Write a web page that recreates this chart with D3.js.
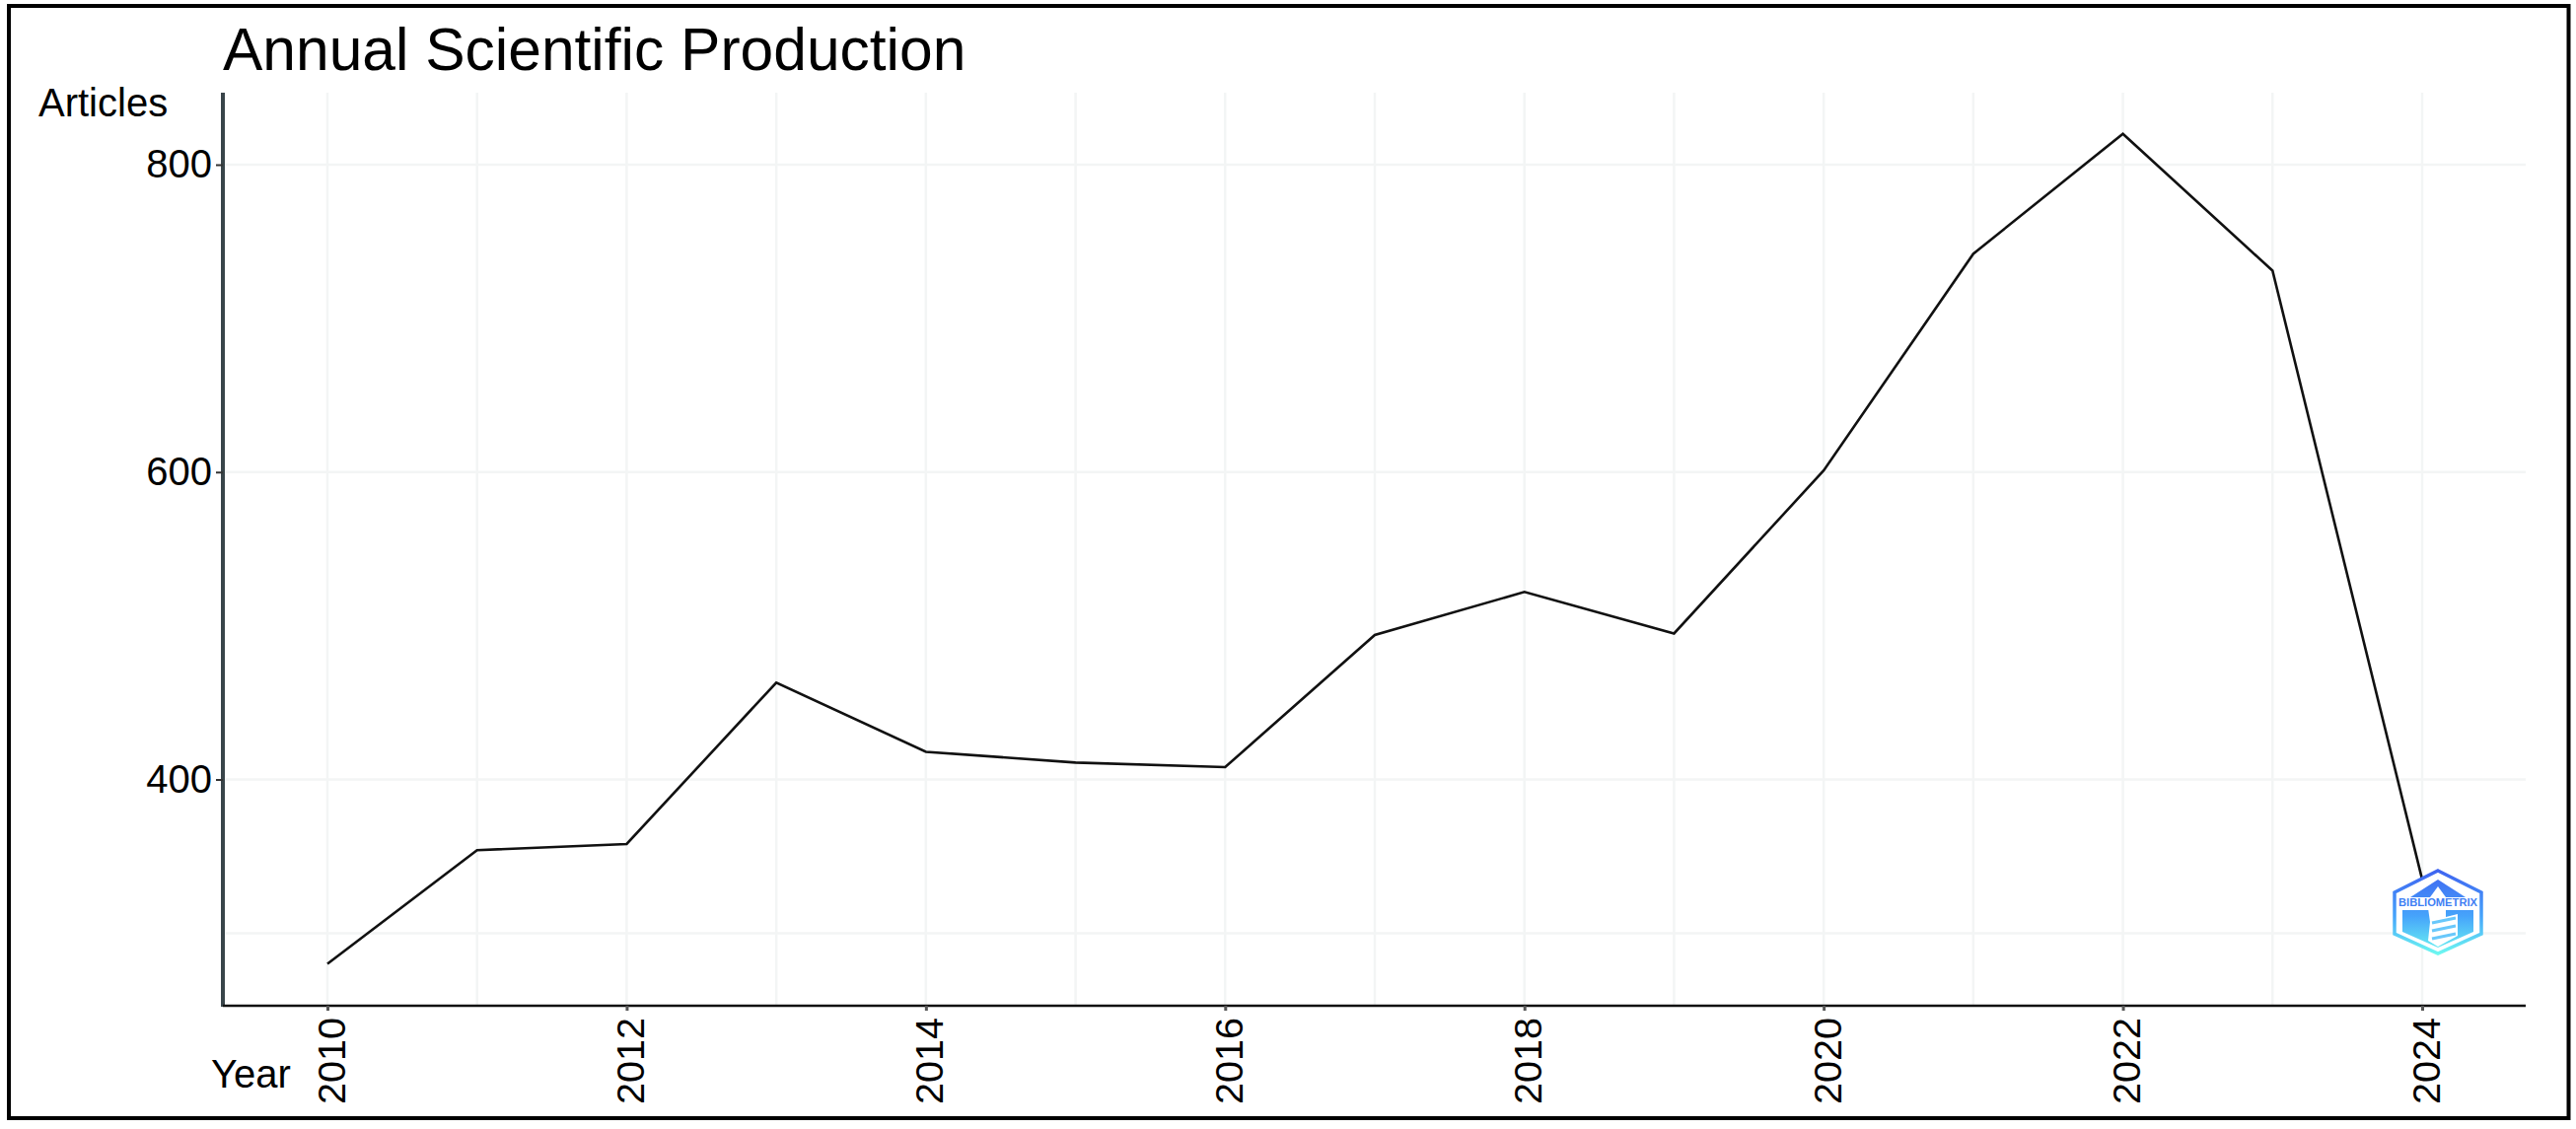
<!doctype html>
<html>
<head>
<meta charset="utf-8">
<title>Annual Scientific Production</title>
<script src="https://cdn.jsdelivr.net/npm/d3@7"></script>
<style>
  html, body { margin: 0; padding: 0; background: #fff; }
  svg { display: block; }
  text { font-family: "Liberation Sans", Arial, sans-serif; fill: #000; }
</style>
</head>
<body>
<div id="viz"></div>
<script>
const years = [2010, 2011, 2012, 2013, 2014, 2015, 2016, 2017, 2018, 2019, 2020, 2021, 2022, 2023, 2024];
const articles = [280, 354, 358, 463, 418, 411, 408, 494, 522, 495, 601, 742, 820, 731, 335];
const yMajor = [400, 600, 800];
const yMinor = [300];
const xLabels = [2010, 2012, 2014, 2016, 2018, 2020, 2022, 2024];

const W = 2612, H = 1145;
const plotLeft = 226, plotRight = 2561, plotTop = 94, plotBottom = 1020;

const svg = d3.select("#viz").append("svg").attr("width", W).attr("height", H);

svg.append("rect").attr("width", W).attr("height", H).attr("fill", "#fff");
// outer frame
svg.append("rect").attr("x", 9).attr("y", 6).attr("width", 2595.5).attr("height", 1128)
  .attr("fill", "none").attr("stroke", "#000").attr("stroke-width", 4);

const x = d3.scaleLinear().domain([2010, 2024]).range([332, 2456]);
const y = d3.scaleLinear().domain([800, 400]).range([167, 790.5]);

// grid
const grid = svg.append("g").attr("stroke", "#f3f5f5").attr("stroke-width", 2.5);
grid.selectAll(".v").data(years).enter().append("line")
  .attr("x1", d => x(d)).attr("x2", d => x(d)).attr("y1", plotTop).attr("y2", plotBottom);
grid.selectAll(".h").data(yMajor.concat(yMinor)).enter().append("line")
  .attr("x1", plotLeft).attr("x2", plotRight).attr("y1", d => y(d)).attr("y2", d => y(d));

// line
const line = d3.line().x((d, i) => x(years[i])).y(d => y(d));
svg.append("path").datum(articles).attr("d", line)
  .attr("fill", "none").attr("stroke", "#111").attr("stroke-width", 2.6);

// axes
const yAxis = svg.append("g").attr("transform", `translate(${plotLeft},0)`)
  .call(d3.axisLeft(y).tickValues(yMajor).tickSize(7).tickPadding(4).tickFormat(d3.format("d")));
yAxis.select(".domain").attr("d", `M0,${plotTop}V${plotBottom + 1}`).attr("stroke", "#39454a").attr("stroke-width", 4);
yAxis.selectAll(".tick line").attr("stroke", "#333").attr("stroke-width", 2);
yAxis.selectAll("text").style("font-size", "40px");

const xAxis = svg.append("g").attr("transform", `translate(0,${plotBottom})`)
  .call(d3.axisBottom(x).tickValues(xLabels).tickSize(5).tickFormat(d3.format("d")));
xAxis.select(".domain").attr("d", `M${plotLeft},0H${plotRight}`).attr("stroke", "#111").attr("stroke-width", 2.5);
xAxis.selectAll(".tick line").attr("stroke", "#555").attr("stroke-width", 3);
xAxis.selectAll("text")
  .style("font-size", "39.5px")
  .attr("text-anchor", "end")
  .attr("x", 0).attr("y", 0).attr("dy", 0)
  .attr("transform", "translate(17,12) rotate(-90)");

// labels
svg.append("text").attr("x", 226).attr("y", 71).style("font-size", "60.5px").text("Annual Scientific Production");
svg.append("text").attr("x", 39).attr("y", 118).style("font-size", "40px").text("Articles");
svg.append("text").attr("x", 214).attr("y", 1103).style("font-size", "40px").text("Year");

// logo
const defs = svg.append("defs");
const grad = defs.append("linearGradient").attr("id", "logoGrad")
  .attr("gradientUnits", "userSpaceOnUse")
  .attr("x1", 0).attr("y1", -44).attr("x2", 0).attr("y2", 44);
grad.append("stop").attr("offset", "0%").attr("stop-color", "#3f62f0");
grad.append("stop").attr("offset", "55%").attr("stop-color", "#46a4fb");
grad.append("stop").attr("offset", "100%").attr("stop-color", "#6ffbf0");

const logo = svg.append("g").attr("transform", "translate(2472,925)");
logo.append("polygon").attr("points", "0,-42 44,-20 44,22 0,42 -44,22 -44,-20")
  .attr("fill", "#fff").attr("stroke", "url(#logoGrad)").attr("stroke-width", 3.5);
logo.append("polygon").attr("points", "0,-33 28,-15 -28,-15").attr("fill", "url(#logoGrad)");
logo.append("polygon").attr("points", "-36,-2 36,-2 36,20 0,36 -36,20").attr("fill", "url(#logoGrad)");
logo.append("polygon").attr("points", "0,-26 8,-15 -8,-15").attr("fill", "#fff");
logo.append("text").attr("x", 0).attr("y", -6).attr("text-anchor", "middle")
  .attr("textLength", 80).attr("lengthAdjust", "spacingAndGlyphs")
  .style("font-size", "11px").style("font-weight", "bold").style("fill", "#3f7ff4")
  .text("BIBLIOMETRIX");
logo.append("path").attr("d", "M-10,-4L8,-4L8,5L20,2L20,24L0,35L-10,29L-8,10Z").attr("fill", "#fff");
logo.selectAll(".s").data([11, 19, 27]).enter().append("line")
  .attr("x1", -6).attr("x2", 18).attr("y1", d => d).attr("y2", d => d - 5)
  .attr("stroke", "#69c8fb").attr("stroke-width", 3);
</script>
</body>
</html>
